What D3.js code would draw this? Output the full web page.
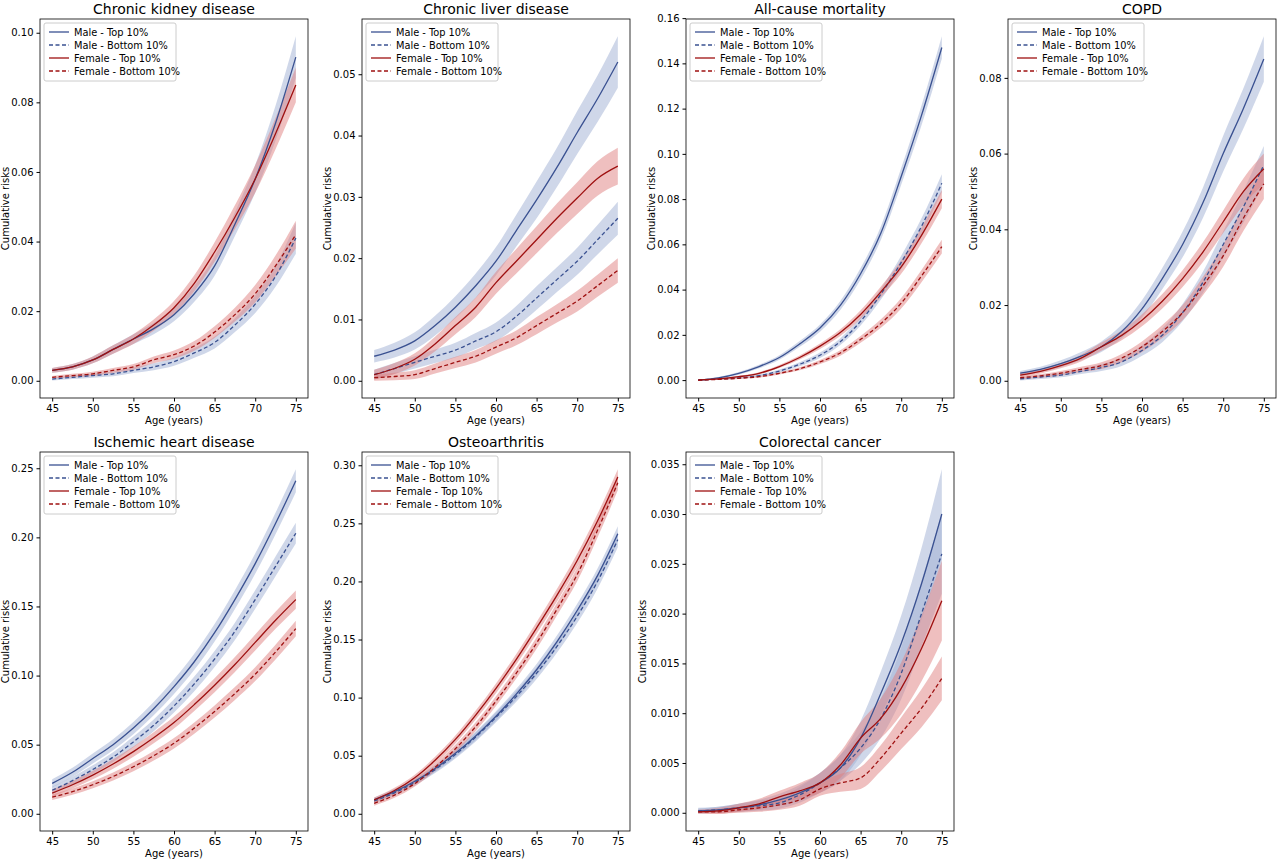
<!DOCTYPE html>
<html><head><meta charset="utf-8">
<script src="https://cdn.jsdelivr.net/npm/d3@7"></script>
<style>body{margin:0;background:#fff;font-family:"DejaVu Sans",sans-serif}</style>
</head><body><svg width="1280" height="862"></svg>
<script>
var ages = [45,47.5,50,52.5,55,57.5,60,62.5,65,67.5,70,72.5,75];
var seriesNames = ["Male - Top 10%","Male - Bottom 10%","Female - Top 10%","Female - Bottom 10%"];
var titles = ["Chronic kidney disease","Chronic liver disease","All-cause mortality","COPD","Ischemic heart disease","Osteoarthritis","Colorectal cancer"];

// values per panel: [maleTop, maleBottom, femaleTop, femaleBottom]
var ckd = [
  [0.003,0.004,0.006,0.009,0.012,0.015,0.019,0.025,0.033,0.045,0.058,0.074,0.093],
  [0.0005,0.001,0.0015,0.002,0.003,0.004,0.0055,0.008,0.011,0.016,0.022,0.030,0.041],
  [0.003,0.004,0.006,0.009,0.012,0.016,0.021,0.028,0.037,0.047,0.058,0.071,0.085],
  [0.001,0.0015,0.002,0.003,0.004,0.006,0.0075,0.010,0.014,0.019,0.025,0.033,0.042]];
var ckdCI = [
  [0.0007,0.0008,0.001,0.0012,0.0014,0.0016,0.0019,0.0023,0.0028,0.0034,0.004,0.005,0.006],
  [0.0004,0.0005,0.0006,0.0007,0.0008,0.001,0.0012,0.0014,0.0017,0.002,0.0025,0.003,0.0045],
  [0.0007,0.0008,0.001,0.0012,0.0014,0.0016,0.0019,0.0023,0.0028,0.0034,0.004,0.0045,0.005],
  [0.0004,0.0005,0.0006,0.0007,0.0008,0.001,0.0012,0.0014,0.0017,0.002,0.0025,0.003,0.004]];
var liver = [
  [0.004,0.005,0.0065,0.009,0.012,0.0155,0.0195,0.0245,0.0295,0.0348,0.0405,0.046,0.052],
  [0.001,0.002,0.003,0.004,0.005,0.0065,0.008,0.0105,0.0135,0.0165,0.0195,0.023,0.0265],
  [0.001,0.002,0.0035,0.006,0.009,0.012,0.016,0.0195,0.023,0.0265,0.0298,0.033,0.035],
  [0.0005,0.0007,0.001,0.002,0.003,0.004,0.0055,0.007,0.009,0.011,0.013,0.0155,0.018]];
var liverCI = [
  [0.001,0.0012,0.0014,0.0016,0.0018,0.002,0.0023,0.0026,0.003,0.0032,0.0035,0.0038,0.0042],
  [0.0008,0.0009,0.001,0.0011,0.0012,0.0013,0.0015,0.0017,0.0019,0.002,0.0022,0.0024,0.0027],
  [0.0008,0.0009,0.001,0.0012,0.0014,0.0016,0.0018,0.002,0.0022,0.0024,0.0026,0.0028,0.003],
  [0.0005,0.0006,0.0007,0.0008,0.0009,0.001,0.0011,0.0012,0.0014,0.0015,0.0017,0.0018,0.002]];
var mortality = [
  [0,0.001,0.003,0.006,0.010,0.016,0.023,0.033,0.047,0.065,0.090,0.117,0.147],
  [0,0.0005,0.001,0.002,0.004,0.007,0.011,0.017,0.026,0.038,0.052,0.068,0.087],
  [0,0.0005,0.0015,0.003,0.006,0.010,0.015,0.021,0.029,0.039,0.050,0.064,0.080],
  [0,0.0003,0.0008,0.0015,0.003,0.005,0.008,0.012,0.018,0.025,0.034,0.046,0.059]];
var mortalityCI = [
  [0.0003,0.0004,0.0006,0.0008,0.001,0.0013,0.0016,0.002,0.0025,0.003,0.0037,0.0044,0.005],
  [0.0002,0.0003,0.0004,0.0005,0.0007,0.0009,0.0012,0.0015,0.0019,0.0024,0.003,0.0035,0.004],
  [0.0002,0.0003,0.0004,0.0005,0.0007,0.0009,0.0012,0.0015,0.0019,0.0024,0.003,0.0035,0.004],
  [0.0002,0.0002,0.0003,0.0004,0.0005,0.0007,0.0009,0.0012,0.0015,0.0019,0.0023,0.0027,0.003]];
var copd = [
  [0.002,0.003,0.0045,0.0065,0.009,0.013,0.019,0.027,0.036,0.047,0.060,0.072,0.085],
  [0.0005,0.001,0.0015,0.0025,0.0035,0.005,0.008,0.012,0.018,0.026,0.036,0.046,0.057],
  [0.0015,0.0025,0.004,0.006,0.009,0.012,0.016,0.021,0.027,0.034,0.042,0.050,0.056],
  [0.0008,0.0013,0.002,0.003,0.004,0.006,0.009,0.013,0.018,0.025,0.033,0.043,0.052]];
var copdCI = [
  [0.0006,0.0007,0.0009,0.0011,0.0014,0.0018,0.0023,0.0028,0.0034,0.004,0.0047,0.0053,0.006],
  [0.0004,0.0005,0.0006,0.0007,0.0009,0.0011,0.0014,0.0018,0.0023,0.0028,0.0035,0.0042,0.005],
  [0.0005,0.0006,0.0007,0.0009,0.0011,0.0013,0.0016,0.0019,0.0022,0.0026,0.003,0.0035,0.004],
  [0.0004,0.0005,0.0006,0.0007,0.0009,0.0011,0.0014,0.0017,0.002,0.0024,0.0029,0.0034,0.004]];
var ihd = [
  [0.022,0.030,0.040,0.050,0.062,0.076,0.092,0.110,0.131,0.155,0.181,0.210,0.241],
  [0.017,0.024,0.032,0.041,0.052,0.064,0.078,0.094,0.112,0.132,0.155,0.179,0.203],
  [0.015,0.021,0.028,0.036,0.045,0.055,0.066,0.079,0.093,0.108,0.124,0.140,0.155],
  [0.012,0.016,0.021,0.027,0.034,0.042,0.051,0.062,0.074,0.087,0.101,0.117,0.134]];
var ihdCI = [
  [0.003,0.0033,0.0036,0.004,0.0044,0.0048,0.0053,0.0058,0.0063,0.0068,0.0073,0.0078,0.0083],
  [0.0025,0.0028,0.0031,0.0035,0.0039,0.0043,0.0048,0.0053,0.0058,0.0063,0.0067,0.0071,0.0075],
  [0.0025,0.0028,0.0031,0.0034,0.0037,0.004,0.0043,0.0046,0.005,0.0054,0.0058,0.0062,0.0066],
  [0.002,0.0023,0.0026,0.0029,0.0032,0.0035,0.0038,0.0041,0.0044,0.0047,0.005,0.0053,0.0056]];
var oa = [
  [0.012,0.019,0.028,0.039,0.052,0.067,0.084,0.103,0.124,0.148,0.175,0.205,0.241],
  [0.011,0.018,0.027,0.038,0.051,0.066,0.083,0.101,0.121,0.144,0.170,0.200,0.236],
  [0.012,0.020,0.031,0.046,0.064,0.085,0.108,0.133,0.160,0.188,0.218,0.252,0.290],
  [0.009,0.016,0.026,0.040,0.056,0.075,0.097,0.121,0.147,0.176,0.206,0.244,0.285]];
var oaCI = [
  [0.002,0.0023,0.0026,0.003,0.0034,0.0038,0.0042,0.0046,0.005,0.0054,0.0058,0.0062,0.0066],
  [0.002,0.0023,0.0026,0.003,0.0034,0.0038,0.0042,0.0046,0.005,0.0054,0.0058,0.0062,0.0066],
  [0.002,0.0023,0.0026,0.003,0.0034,0.0038,0.0042,0.0046,0.005,0.0054,0.0058,0.0062,0.0066],
  [0.002,0.0023,0.0026,0.003,0.0034,0.0038,0.0042,0.0046,0.005,0.0054,0.0058,0.0062,0.0066]];
var crc = [
  [0.0002,0.0003,0.0005,0.0008,0.0013,0.002,0.003,0.0045,0.0075,0.012,0.017,0.023,0.030],
  [0.0002,0.0003,0.0005,0.0007,0.001,0.0018,0.003,0.0045,0.0065,0.0095,0.014,0.020,0.026],
  [0.0001,0.0002,0.0005,0.0009,0.0016,0.0022,0.003,0.0048,0.0075,0.0095,0.0125,0.0165,0.0213],
  [0.0001,0.0001,0.0003,0.0005,0.0008,0.0013,0.0024,0.003,0.0035,0.0055,0.008,0.0105,0.0135]];
var crcCI = [
  [0.0003,0.0003,0.0004,0.0005,0.0006,0.0008,0.001,0.0013,0.0017,0.0022,0.0028,0.0036,0.0045],
  [0.0002,0.0003,0.0004,0.0005,0.0006,0.0008,0.001,0.0013,0.0016,0.002,0.0026,0.0033,0.004],
  [0.0002,0.0003,0.0004,0.0005,0.0006,0.0008,0.001,0.0013,0.0016,0.002,0.0026,0.0033,0.004],
  [0.0001,0.0002,0.0003,0.0004,0.0005,0.0006,0.0007,0.0009,0.0011,0.0013,0.0016,0.0019,0.0022]];

var panels = [[ckd,ckdCI],[liver,liverCI],[mortality,mortalityCI],[copd,copdCI],[ihd,ihdCI],[oa,oaCI],[crc,crcCI]];
var yTicks = [
  [0,0.02,0.04,0.06,0.08,0.10],
  [0,0.01,0.02,0.03,0.04,0.05],
  [0,0.02,0.04,0.06,0.08,0.10,0.12,0.14,0.16],
  [0,0.02,0.04,0.06,0.08],
  [0,0.05,0.10,0.15,0.20,0.25],
  [0,0.05,0.10,0.15,0.20,0.25,0.30],
  [0,0.005,0.010,0.015,0.020,0.025,0.030,0.035]];
var yFmt = [".2f",".2f",".2f",".2f",".2f",".2f",".3f"];
var xTicks = [45,50,55,60,65,70,75];

var lineColor = ["#3a5191","#3a5191","#9e1010","#9e1010"];
var bandColor = ["#9fb0d3","#9fb0d3","#e08080","#e08080"];
var dashes = [null,"4,2.5",null,"4,2.5"];

var colLeft = [40,362,686,1008], pw = 268;
var rowTop = [19,452], ph = 379;

var svg = d3.select("svg");

panels.forEach(function (p, k) {
  var vals = p[0], ci = p[1];
  var x0 = colLeft[k % 4], y0 = rowTop[Math.floor(k / 4)];
  var g = svg.append("g").attr("transform", "translate(" + x0 + "," + y0 + ")");
  var lo = d3.min(vals.map(function (s, i) { return d3.min(s, function (v, j) { return v - ci[i][j]; }); }));
  var hi = d3.max(vals.map(function (s, i) { return d3.max(s, function (v, j) { return v + ci[i][j]; }); }));
  lo = Math.min(lo, 0);
  var pad = (hi - lo) * 0.05;
  var x = d3.scaleLinear().domain([43.5, 76.5]).range([0, pw]);
  var y = d3.scaleLinear().domain([lo - pad, hi + pad]).range([ph, 0]);

  vals.forEach(function (s, i) {
    var area = d3.area().curve(d3.curveMonotoneX)
      .x(function (d, j) { return x(ages[j]); })
      .y0(function (d, j) { return y(d - ci[i][j]); })
      .y1(function (d, j) { return y(d + ci[i][j]); });
    g.append("path").datum(s).attr("d", area).attr("fill", bandColor[i]).attr("opacity", 0.5);
  });
  vals.forEach(function (s, i) {
    var line = d3.line().curve(d3.curveMonotoneX)
      .x(function (d, j) { return x(ages[j]); })
      .y(function (d) { return y(d); });
    g.append("path").datum(s).attr("d", line).attr("fill", "none")
      .attr("stroke", lineColor[i]).attr("stroke-width", 1.3)
      .attr("stroke-dasharray", dashes[i]);
  });

  var xa = g.append("g").attr("transform", "translate(0," + ph + ")")
    .call(d3.axisBottom(x).tickValues(xTicks).tickSize(3.5).tickPadding(3));
  var ya = g.append("g").call(d3.axisLeft(y).tickValues(yTicks[k]).tickFormat(d3.format(yFmt[k])).tickSize(3.5).tickPadding(3));
  [xa, ya].forEach(function (a) {
    a.select(".domain").remove();
    a.selectAll("text").attr("font-size", 10).attr("fill", "#000").attr("font-family", "DejaVu Sans");
    a.selectAll("line").attr("stroke", "#000");
  });
  g.append("rect").attr("width", pw).attr("height", ph).attr("fill", "none").attr("stroke", "#000").attr("stroke-width", 0.8);

  g.append("text").attr("x", pw / 2).attr("y", -5).attr("text-anchor", "middle")
    .attr("font-size", 14).text(titles[k]);
  g.append("text").attr("x", pw / 2).attr("y", ph + 26).attr("text-anchor", "middle")
    .attr("font-size", 10).text("Age (years)");
  var labOff = yFmt[k] === ".3f" ? -40 : -31;
  g.append("text").attr("transform", "translate(" + labOff + "," + ph / 2 + ") rotate(-90)")
    .attr("text-anchor", "middle").attr("font-size", 10).text("Cumulative risks");

  var lg = g.append("g").attr("transform", "translate(4,4)");
  lg.append("rect").attr("width", 132).attr("height", 58).attr("fill", "#fff")
    .attr("stroke", "#ccc").attr("rx", 2);
  seriesNames.forEach(function (n, i) {
    var yy = 9 + i * 13;
    lg.append("line").attr("x1", 5).attr("x2", 25).attr("y1", yy).attr("y2", yy)
      .attr("stroke", lineColor[i]).attr("stroke-width", 1.3).attr("stroke-dasharray", dashes[i]);
    lg.append("text").attr("x", 30).attr("y", yy + 3.5).attr("font-size", 9.8).text(n);
  });
});
</script></body></html>
